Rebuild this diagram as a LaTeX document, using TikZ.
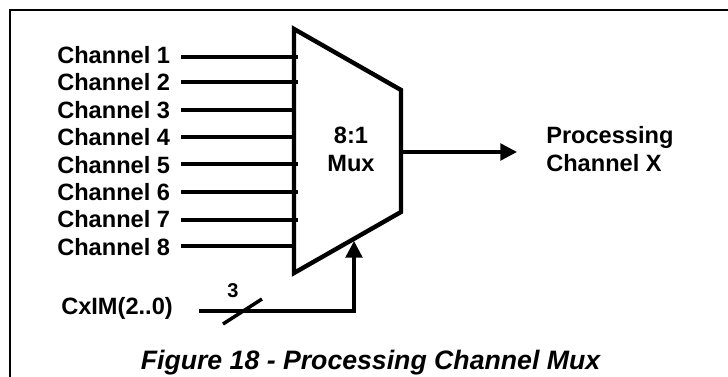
\documentclass[tikz,border=0pt]{standalone}
\usepackage{fontspec}
\setmainfont{Liberation Sans}
\usetikzlibrary{arrows.meta}
\tikzset{
  lbl/.style={font=\fontsize{17.7}{21}\selectfont\bfseries,inner sep=0pt,anchor=west,align=left},
  wire/.style={line width=2.6pt,shorten <=11*0.75pt},
  tip/.style={-{Triangle[length=12.5pt,width=12.5pt]},line width=2.6pt},
}
\begin{document}
\begin{tikzpicture}[x=0.75pt,y=-0.75pt]
        \useasboundingbox (0,0) rectangle (728,377);
        \coordinate (FL) at (10,377);
        \coordinate (FT) at (10,10);
        \coordinate (FR) at (728,10);
        \draw[line width=1.8pt] (FL) -- (FT) -- (FR);
        % mux body
        \coordinate (A) at (294,29);
        \coordinate (B) at (401,90);
        \coordinate (C) at (401,212);
        \coordinate (D) at (294,273);
        \draw[line width=3.3pt] (A) -- (B) -- (C) -- (D) --cycle;
        \node[lbl,align=center,anchor=center] (mux) at (351,149) {8:1\\Mux};
        % inputs
        \node[lbl] (ch1) at (57,55) {Channel 1};
        \node[lbl] (ch2) at (57,82) {Channel 2};
        \node[lbl] (ch3) at (57,110) {Channel 3};
        \node[lbl] (ch4) at (57,137) {Channel 4};
        \node[lbl] (ch5) at (57,165) {Channel 5};
        \node[lbl] (ch6) at (57,192) {Channel 6};
        \node[lbl] (ch7) at (57,219) {Channel 7};
        \node[lbl] (ch8) at (57,247) {Channel 8};
        \coordinate (in1) at (298,57);
        \coordinate (in2) at (298,82);
        \coordinate (in3) at (294,110);
        \coordinate (in4) at (294,137);
        \coordinate (in5) at (298,164);
        \coordinate (in6) at (298,192);
        \coordinate (in7) at (298,220);
        \coordinate (in8) at (296,246);
        \draw[wire] (ch1.east |- in1) -- (in1);
        \draw[wire] (ch2.east |- in2) -- (in2);
        \draw[wire] (ch3.east |- in3) -- (in3);
        \draw[wire] (ch4.east |- in4) -- (in4);
        \draw[wire] (ch5.east |- in5) -- (in5);
        \draw[wire] (ch6.east |- in6) -- (in6);
        \draw[wire] (ch7.east |- in7) -- (in7);
        \draw[wire] (ch8.east |- in8) -- (in8);
        % output
        \coordinate (out) at (401,152);
        \node[lbl] (pch) at (546,149) {Processing\\Channel X};
        \coordinate (outend) at (517,152);
        \draw[tip] (out) -- (outend);
        % select
        \node[lbl] (sel) at (61,308) {CxIM(2..0)};
        \coordinate (s0) at (199,311);
        \coordinate (s1) at (354,311);
        \coordinate (s2) at (354,241);
        \draw[tip] (s0) -- (s1) -- (s2);
        \coordinate (t0) at (223,324);
        \coordinate (t1) at (262,299);
        \draw[line width=2.6pt] (t0) -- (t1);
        \node[font=\fontsize{15}{18}\selectfont\bfseries,inner sep=0pt] (bits) at (233,291) {3};
        \node[font=\fontsize{20}{24}\selectfont\bfseries\itshape,inner sep=0pt] (cap) at (370.5,363) {Figure 18 - Processing Channel Mux};
\end{tikzpicture}
\end{document}
